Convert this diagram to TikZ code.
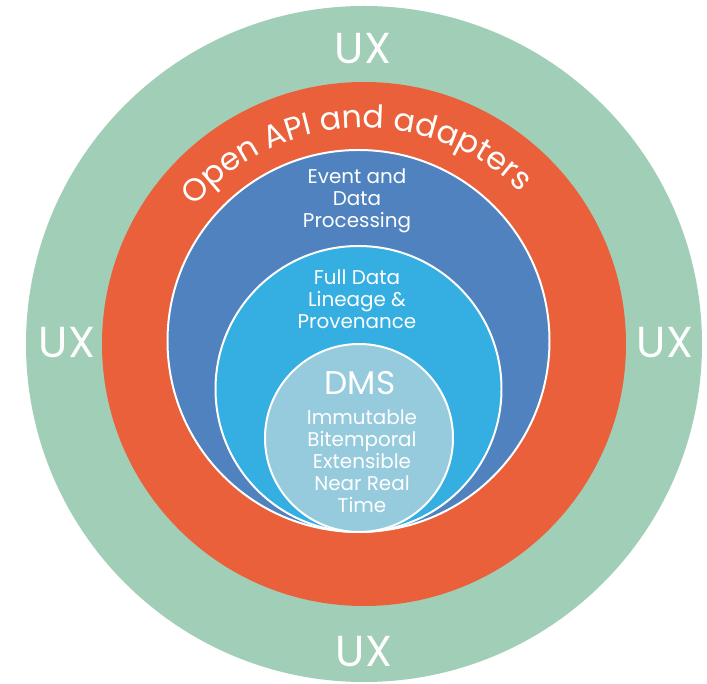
\documentclass[tikz,border=0pt]{standalone}
\usepackage{fontspec}
\setmainfont{Poppins}
\definecolor{uxgreen}{RGB}{161, 206, 183}
\definecolor{apiorange}{RGB}{233, 96, 58}
\definecolor{procblue}{RGB}{79, 130, 190}
\definecolor{lineageblue}{RGB}{53, 174, 226}
\definecolor{dmsblue}{RGB}{150, 203, 221}
\usepackage{tikz}
\usetikzlibrary{decorations.text}
\tikzset{
  uxlabel/.style={text=white, font=\fontsize{37}{37}\selectfont},
  layertext/.style={text=white, align=center, font=\fontsize{17}{18.8}\selectfont},
  layerline/.style={draw=white, line width=1.7pt}
}

\begin{document}
\begin{tikzpicture}[x=0.03cm, y=0.03cm]
  \useasboundingbox (-364,-340) rectangle (343,344);

  % Outer rings
  \fill[uxgreen] (0,0) circle[radius=338];
  \fill[apiorange] (0,0) circle[radius=262];

  % Nested layers, all touching at the bottom
  \filldraw[layerline, fill=procblue] (-5.5,3) circle[radius=191];
  \filldraw[layerline, fill=lineageblue] (-5.5,-45) circle[radius=143];
  \filldraw[layerline, fill=dmsblue] (-5,-94) circle[radius=94];

  % UX labels
  \node[uxlabel] (uxtop) at (-1,295) {UX};
  \node[uxlabel] (uxleft) at (-297,1) {UX};
  \node[uxlabel] (uxright) at (301,1) {UX};
  \node[uxlabel] (uxbottom) at (0,-308) {UX};

  % Curved label on the orange ring
  \path[decorate, decoration={text along path, text align=center,
    text={|\fontsize{27}{27}\selectfont\color{white}|Open API and adapters}}]
    (0,-6) ++(182:222) arc[start angle=182, end angle=3, radius=222];

  % Layer texts
  \node[layertext] (proc) at (-7,143) {Event and\\Data\\Processing};
  \node[layertext] (lineage) at (-7,45) {Full Data\\Lineage \&\\Provenance};
  \node[layertext, font=\fontsize{28}{30}\selectfont] (dms) at (-4,-39) {DMS};
  \node[layertext] (dmsprops) at (-2,-117) {Immutable\\Bitemporal\\Extensible\\Near Real\\Time};
\end{tikzpicture}
\end{document}
